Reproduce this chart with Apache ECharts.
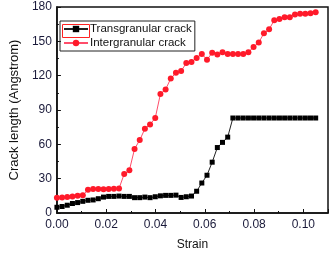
<!DOCTYPE html>
<html><head><meta charset="utf-8">
<script src="https://cdn.jsdelivr.net/npm/echarts@6/dist/echarts.min.js"></script>
<style>html,body{margin:0;padding:0;background:#fff}#c{width:333px;height:256px}</style>
</head><body><div id="c"></div>
<script>
var strain = [0, 0.0021, 0.0042, 0.0063, 0.0084, 0.0105, 0.0126, 0.0147, 0.0168, 0.0189, 0.021, 0.0231, 0.0252, 0.0273, 0.0294, 0.0315, 0.0336, 0.0357, 0.0378, 0.0399, 0.042, 0.0441, 0.0462, 0.0483, 0.0504, 0.0525, 0.0546, 0.0567, 0.0588, 0.0609, 0.063, 0.0651, 0.0672, 0.0693, 0.0714, 0.0735, 0.0756, 0.0777, 0.0798, 0.0819, 0.084, 0.0861, 0.0882, 0.0903, 0.0924, 0.0945, 0.0966, 0.0987, 0.1008, 0.1029, 0.105];
var transgranular = [5,5.7,6.8,8.3,9.1,10.2,11.1,11.4,12.5,13.9,14.5,14.5,14.8,14.5,14.5,13.4,13.4,13.9,13.4,14.2,
  15,15.4,15.4,15.6,13.6,14.2,14.8,19,26.2,33,44.4,57.2,61.7,66.3,
  83,83,83,83,83,83,83,83,83,83,83,83,83,83,83,83,83];
var intergranular = [13.4,13.6,14,14.5,15,15.5,20.3,21,21,20.8,21,21.2,21.5,34,37.3,56,63.7,73.6,77.4,83,
  104,108,117.5,122.5,124,131,132,135.5,139,134,140,138.5,140.5,139,139,139,139,140.5,145,149,
  157,160.5,168.5,169.5,171,171,173.5,174,174,174.5,175.5];
var seriesNames = ['Transgranular crack', 'Intergranular crack'];
var yTicks = [0, 30, 60, 90, 120, 150, 180];

function pairs(ys){ return strain.map(function(x,i){ return [x, ys[i]]; }); }
var font = 'Liberation Sans, Arial, sans-serif';
var chart = echarts.init(document.getElementById('c'));
chart.setOption({
  animation: false,
  grid: {left: 43, right: 5, top: 7, bottom: 38, show: true, borderColor: '#111', borderWidth: 1.5, backgroundColor: 'transparent'},
  legend: {
    left: 60, top: 21, orient: 'vertical', itemGap: 2, itemWidth: 24, itemHeight: 8,
    padding: [2, 3, 2, 3], borderColor: '#222', borderWidth: 1,
    textStyle: {fontFamily: font, fontSize: 11.5, color: '#111', padding: [0,0,0,-3]},
    data: seriesNames
  },
  xAxis: {
    type: 'value', min: 0, max: 0.11, interval: 0.02,
    name: 'Strain', nameLocation: 'middle', nameGap: 26,
    nameTextStyle: {fontFamily: font, fontSize: 12, color: '#111'},
    axisLine: {lineStyle: {color: '#111', width: 1.5}},
    axisTick: {inside: true, length: 4, lineStyle: {color: '#111'}},
    minorTick: {show: true, splitNumber: 2, length: 2, lineStyle: {color: '#111'}},
    splitLine: {show: false},
    axisLabel: {fontFamily: font, fontSize: 12, color: '#1a1a3a', showMaxLabel: false, margin: 6,
      formatter: function(v){ return v.toFixed(2); }}
  },
  yAxis: {
    type: 'value', min: yTicks[0], max: yTicks[yTicks.length-1], interval: 30,
    name: 'Crack length (Angstrom)', nameLocation: 'middle', nameGap: 31,
    nameTextStyle: {fontFamily: font, fontSize: 13, color: '#111'},
    axisLine: {lineStyle: {color: '#111', width: 1.5}},
    axisTick: {inside: true, length: 4, lineStyle: {color: '#111'}},
    minorTick: {show: true, splitNumber: 2, length: 2, lineStyle: {color: '#111'}},
    splitLine: {show: false},
    axisLabel: {fontFamily: font, fontSize: 12, color: '#1a1a3a', margin: 5}
  },
  graphic: [{type: 'rect', left: 60, top: 22, shape: {width: 27, height: 13}, style: {fill: 'none', stroke: '#f22', lineWidth: 1}, z: 100}],
  series: [
    {name: seriesNames[0], type: 'line', data: pairs(transgranular), symbol: 'rect', symbolSize: 5,
      lineStyle: {color: '#222', width: 1}, itemStyle: {color: '#000'}},
    {name: seriesNames[1], type: 'line', data: pairs(intergranular), symbol: 'circle', symbolSize: 6,
      lineStyle: {color: '#ff4d6a', width: 1}, itemStyle: {color: '#ff1a2a'}}
  ]
});
</script></body></html>
